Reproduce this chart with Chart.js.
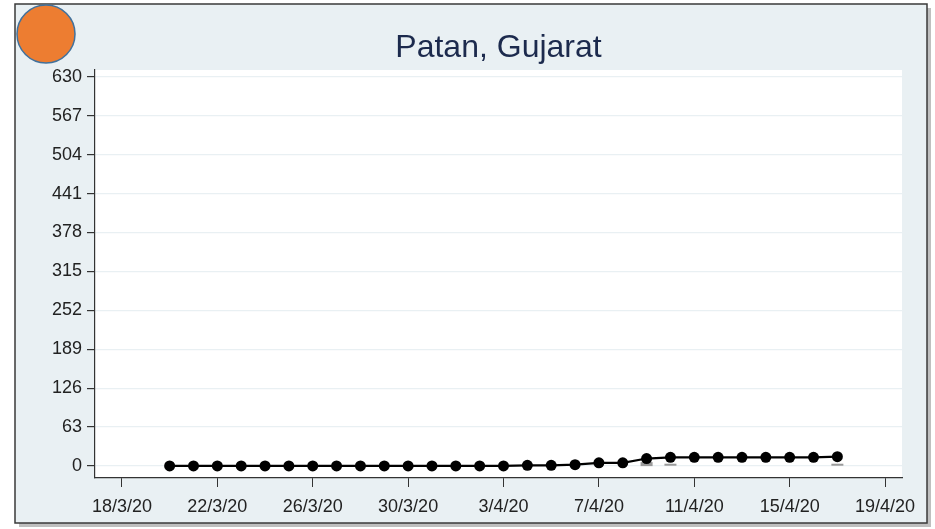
<!DOCTYPE html>
<html>
<head>
<meta charset="utf-8">
<script src="https://cdn.jsdelivr.net/npm/chart.js@4"></script>
<style>
	body { margin: 0; background: #ffffff; }
	canvas { display: block; }
</style>
</head>
<body>
<canvas id="patanChart" width="935" height="529"></canvas>
<script>
// Cumulative cases, Patan district
const dates = [
	"20/3/20", "21/3/20", "22/3/20", "23/3/20", "24/3/20", "25/3/20", "26/3/20",
	"27/3/20", "28/3/20", "29/3/20", "30/3/20", "31/3/20", "1/4/20", "2/4/20",
	"3/4/20", "4/4/20", "5/4/20", "6/4/20", "7/4/20", "8/4/20", "9/4/20",
	"10/4/20", "11/4/20", "12/4/20", "13/4/20", "14/4/20", "15/4/20", "16/4/20",
	"17/4/20",
];
const cases = [
	0, 0, 0, 0, 0, 0, 0,
	0, 0, 0, 0, 0, 0, 0,
	0, 1, 1, 2, 5, 5, 12,
	14, 14, 14, 14, 14, 14, 14,
	15,
];
// small grey dash markers under the line
const markDates = ["9/4/20", "10/4/20", "17/4/20"];
const markValues = [3, 2, 2];

const yTicks = [0, 63, 126, 189, 252, 315, 378, 441, 504, 567, 630];
const xTickLabels = ["18/3/20", "22/3/20", "26/3/20", "30/3/20", "3/4/20", "7/4/20", "11/4/20", "15/4/20", "19/4/20"];

const font = "'Liberation Sans', Arial, sans-serif";

// days since 18 March 2020
function dayNum(s) {
	const [d, m, y] = s.split("/").map(Number);
	const t = Date.UTC(2000 + y, m - 1, d);
	return Math.round((t - Date.UTC(2020, 2, 18)) / 86400000);
}
const xTicks = xTickLabels.map(dayNum);

const framePlugin = {
	id: "frame",
	beforeDraw(chart) {
		const c = chart.ctx;
		const a = chart.chartArea;
		c.save();
		c.fillStyle = "#ffffff";
		c.fillRect(0, 0, chart.width, chart.height);
		// drop shadow
		c.fillStyle = "rgba(0,0,0,0.25)";
		c.fillRect(19, 8, 912, 519);
		c.fillStyle = "#e9f0f3";
		c.fillRect(15, 4, 912, 519);
		c.strokeStyle = "#3a3a3a";
		c.lineWidth = 1.5;
		c.strokeRect(15, 4, 912, 519);
		c.fillStyle = "#ffffff";
		c.fillRect(a.left, a.top, a.right - a.left, a.bottom - a.top);
		c.restore();
	},
	afterDraw(chart) {
		const c = chart.ctx;
		c.save();
		c.beginPath();
		c.arc(46, 34, 29, 0, Math.PI * 2);
		c.fillStyle = "#ed7d31";
		c.fill();
		c.lineWidth = 1.5;
		c.strokeStyle = "#41719c";
		c.stroke();
		c.restore();
	},
};

const ctx = document.getElementById("patanChart");
const chart = new Chart(ctx, {
	type: "line",
	data: {
		datasets: [
			{
				data: dates.map((d, i) => ({ x: dayNum(d), y: cases[i] })),
				borderColor: "#000000",
				backgroundColor: "#000000",
				borderWidth: 2.2,
				pointRadius: 5.5,
				pointBorderWidth: 0,
				tension: 0,
				order: 1,
			},
			{
				data: markDates.map((d, i) => ({ x: dayNum(d), y: markValues[i] })),
				showLine: false,
				pointStyle: "line",
				pointRadius: 6,
				pointBorderWidth: [4, 2, 2],
				borderColor: "#9a9a9a",
				order: 2,
			},
		],
	},
	options: {
		responsive: false,
		animation: false,
		layout: { padding: { left: 20, right: 33, top: 0, bottom: 10 } },
		plugins: {
			legend: { display: false },
			tooltip: { enabled: false },
			title: {
				display: true,
				fullSize: false,
				text: "Patan, Gujarat",
				color: "#1c2a4d",
				font: { family: font, size: 32, weight: "normal" },
				padding: { top: 29, bottom: 2.6 },
			},
		},
		scales: {
			x: {
				type: "linear",
				min: -1.13,
				max: 32.71,
				afterFit: (s) => { s.height = 41; },
				afterBuildTicks: (s) => { s.ticks = xTicks.map((v) => ({ value: v })); },
				grid: { drawOnChartArea: false, tickColor: "#333333", tickLength: 9, tickWidth: 1 },
				border: { color: "#333333", width: 1.2 },
				ticks: {
					color: "#222222",
					font: { family: font, size: 18 },
					padding: 9,
					maxRotation: 0,
					callback: (v) => xTickLabels[xTicks.indexOf(v)],
				},
			},
			y: {
				min: -19.5,
				max: 641,
				afterFit: (s) => { s.width = 75; },
				afterBuildTicks: (s) => { s.ticks = yTicks.map((v) => ({ value: v })); },
				grid: { color: "#e9f0f3", lineWidth: 1.2, tickColor: "#333333", tickLength: 8 },
				border: { color: "#333333", width: 1.2 },
				ticks: {
					color: "#222222",
					font: { family: font, size: 18 },
					padding: 5,
				},
			},
		},
	},
	plugins: [framePlugin],
});
</script>
</body>
</html>
